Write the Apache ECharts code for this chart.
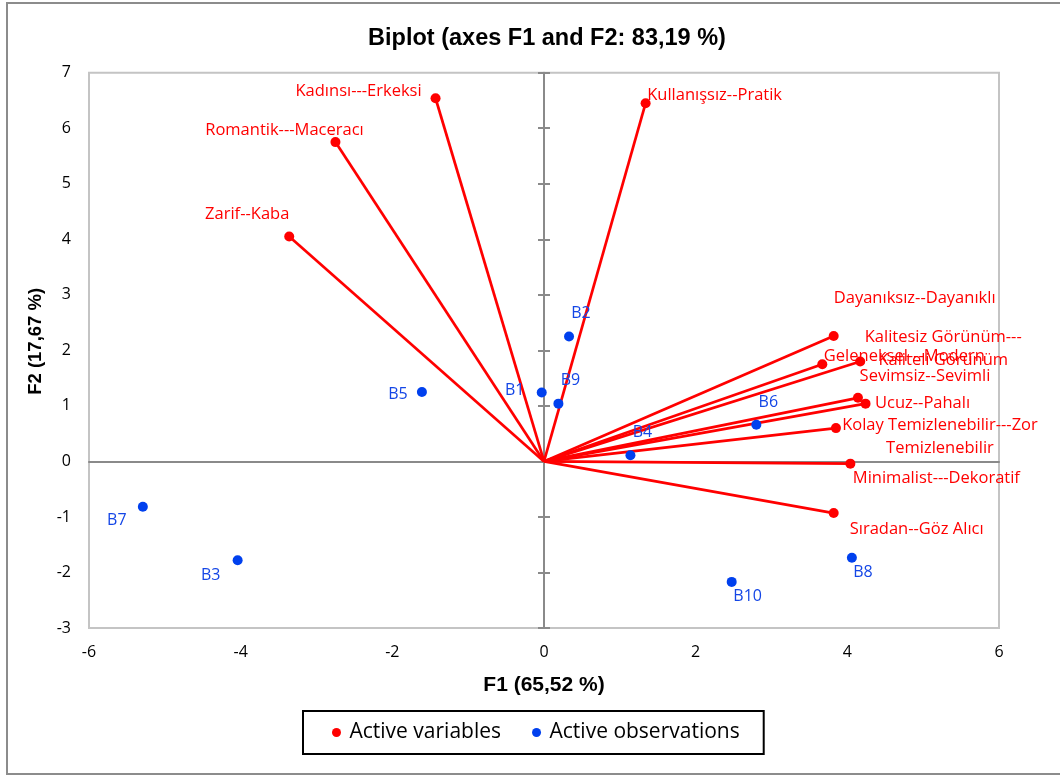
<!DOCTYPE html>
<html>
<head>
<meta charset="utf-8">
<script src="https://cdn.jsdelivr.net/npm/echarts@6/dist/echarts.min.js"></script>
<style>
html,body{margin:0;padding:0;background:#fff;}
#chart{width:1060px;height:776px;}
</style>
</head>
<body>
<div id="chart"></div>
<script>
// ---- data ----
const varNames = ['Kadınsı---Erkeksi','Romantik---Maceracı','Zarif--Kaba','Kullanışsız--Pratik',
  'Dayanıksız--Dayanıklı','Kalitesiz Görünüm---\nKaliteli Görünüm','Geleneksel---Modern','Sevimsiz--Sevimli',
  'Ucuz--Pahalı','Kolay Temizlenebilir---Zor\nTemizlenebilir','Minimalist---Dekoratif','Sıradan--Göz Alıcı'];
const varX = [-1.43, -2.75, -3.36, 1.34, 3.82, 4.17, 3.67, 4.14, 4.24, 3.85, 4.04, 3.82];
const varY = [6.54, 5.75, 4.05, 6.45, 2.26, 1.80, 1.75, 1.145, 1.04, 0.60, -0.04, -0.93];

const obsNames = ['B1','B2','B3','B4','B5','B6','B7','B8','B9','B10'];
const obsX = [-0.03, 0.33, -4.04, 1.14, -1.61, 2.80, -5.29, 4.06, 0.19, 2.475];
const obsY = [1.24, 2.25, -1.78, 0.11, 1.25, 0.66, -0.815, -1.735, 1.04, -2.17];

const xTicks = {min:-6, max:6, interval:2};
const yTicks = {min:-3, max:7, interval:1};

// ---- label placement (style) ----
const varLabelOffset = [[-77,-7],[-51,-12],[-42,-22],[69,-8],[81,-38],[83,-13],[82,-8],[67,-22],[57,0],[104,9],[86,15],[83,16]];
const obsLabelOffset = [[-27,-2],[12,-23],[-27,15],[12,-23],[-24,2],[12,-22],[-26,14],[11,15],[12,-23],[16,15]];

const RED = '#ff0000';
const BLUE = '#0040ee';
const BLUE_TXT = '#1446e6';
const LABEL_FONT = 'Open Sans';

const chart = echarts.init(document.getElementById('chart'), null, {renderer:'canvas'});

const varData = varX.map((x,i)=>({
  name: varNames[i], value:[x, varY[i]],
  label:{offset: varLabelOffset[i]}
}));
const obsData = obsX.map((x,i)=>({
  name: obsNames[i], value:[x, obsY[i]],
  label:{offset: obsLabelOffset[i]}
}));
const vecData = varX.map((x,i)=>({coords:[[0,0],[x, varY[i]]]}));

const tickLabel = {fontFamily: LABEL_FONT, fontSize: 16, color:'#000'};

const option = {
  animation:false,
  backgroundColor:'#fff',
  title:{
    text:'Biplot (axes F1 and F2: 83,19 %)',
    left:542, top:22, textAlign:'center',
    textStyle:{fontFamily:'Liberation Sans', fontWeight:'bold', fontSize:23.5, color:'#000'}
  },
  legend:{
    data:['Active variables','Active observations'],
    left:303, top:711,
    padding:[11,24,11,29],
    itemWidth:16, itemHeight:9, itemGap:31,
    icon:'circle',
    borderColor:'#000', borderWidth:2,
    textStyle:{fontFamily: LABEL_FONT, fontSize:21, color:'#000'}
  },
  grid:{
    left:89, right:61, top:72.7, bottom:148,
    show:true, borderColor:'#c4c4c4', borderWidth:2, backgroundColor:'transparent'
  },
  xAxis:[
    {type:'value', min:xTicks.min, max:xTicks.max, interval:xTicks.interval, position:'bottom',
     axisLine:{show:false, onZero:false}, axisTick:{show:false}, splitLine:{show:false},
     axisLabel:Object.assign({margin:16}, tickLabel),
     name:'F1 (65,52 %)', nameLocation:'middle', nameGap:47,
     nameTextStyle:{fontFamily:'Liberation Sans', fontWeight:'bold', fontSize:21, color:'#000'}},
    {type:'value', min:xTicks.min, max:xTicks.max, interval:xTicks.interval, position:'bottom',
     axisLine:{show:true, onZero:true, lineStyle:{color:'#8a8a8a', width:2}},
     axisTick:{show:false}, axisLabel:{show:false}, splitLine:{show:false}}
  ],
  yAxis:[
    {type:'value', min:yTicks.min, max:yTicks.max, interval:yTicks.interval, position:'left',
     axisLine:{show:false, onZero:false}, axisTick:{show:false}, splitLine:{show:false},
     axisLabel:Object.assign({margin:18}, tickLabel),
     name:'F2 (17,67 %)', nameLocation:'middle', nameGap:43, nameRotate:90,
     nameTextStyle:{fontFamily:'Liberation Sans', fontWeight:'bold', fontSize:18.5, color:'#000', padding:[0,0,0,18]}},
    {type:'value', min:yTicks.min, max:yTicks.max, interval:yTicks.interval, position:'left',
     axisLine:{show:true, onZero:true, lineStyle:{color:'#8a8a8a', width:2}},
     axisTick:{show:true, inside:true, length:6, lineStyle:{color:'#8a8a8a', width:2}},
     axisLabel:{show:false}, splitLine:{show:false}},
    {type:'value', min:yTicks.min, max:yTicks.max, interval:yTicks.interval, position:'left',
     axisLine:{show:false, onZero:true},
     axisTick:{show:true, inside:false, length:6, lineStyle:{color:'#8a8a8a', width:2}},
     axisLabel:{show:false}, splitLine:{show:false}}
  ],
  graphic:[
    {type:'rect', silent:true, z:-1, shape:{x:7, y:3, width:1070, height:771},
     style:{fill:'none', stroke:'#8c8c8c', lineWidth:2}}
  ],
  series:[
    {type:'lines', name:'vectors', coordinateSystem:'cartesian2d', xAxisIndex:0, yAxisIndex:0,
     data:vecData, lineStyle:{color:RED, width:2.7, opacity:1}, z:2, silent:true},
    {type:'scatter', name:'Active variables', xAxisIndex:0, yAxisIndex:0,
     symbol:'circle', symbolSize:10, itemStyle:{color:RED, opacity:1},
     data:varData, z:3,
     label:{show:true, position:'inside', formatter:'{b}', color:RED, opacity:1,
       fontFamily:LABEL_FONT, fontSize:16.5, lineHeight:23, align:'center', verticalAlign:'middle'}},
    {type:'scatter', name:'Active observations', xAxisIndex:0, yAxisIndex:0,
     symbol:'circle', symbolSize:10, itemStyle:{color:BLUE, opacity:1},
     data:obsData, z:4,
     label:{show:true, position:'inside', formatter:'{b}', color:BLUE_TXT, opacity:1,
       fontFamily:LABEL_FONT, fontSize:16, align:'center', verticalAlign:'middle'}}
  ]
};
chart.setOption(option);
</script>
</body>
</html>
